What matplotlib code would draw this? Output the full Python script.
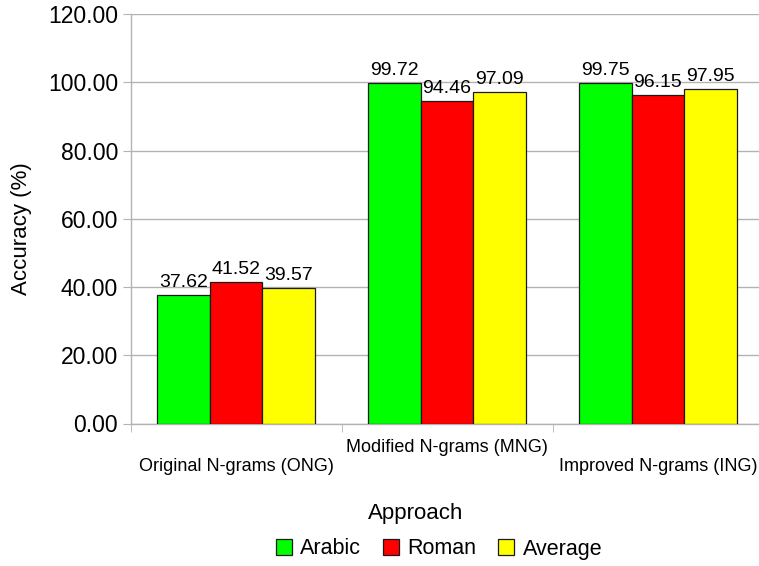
import numpy as np
import matplotlib.pyplot as plt

plt.rcParams['font.family'] = ['Liberation Sans', 'DejaVu Sans']

# accuracy per approach and script
approaches = ['Original N-grams (ONG)', 'Modified N-grams (MNG)', 'Improved N-grams (ING)']
series_names = ['Arabic', 'Roman', 'Average']
arabic = [37.62, 99.72, 99.75]
roman = [41.52, 94.46, 96.15]
average = [39.57, 97.09, 97.95]
colors = ['#00ff00', '#ff0000', '#ffff00']

fig = plt.figure(figsize=(7.59, 5.66), dpi=100)
ax = fig.add_axes([130.5 / 759, 1 - 423.5 / 566, 633 / 759, 409.5 / 566])

x = np.arange(len(approaches))
w = 0.25
grid_c = '#b3b3b3'

for i, (name, vals) in enumerate(zip(series_names, [arabic, roman, average])):
    bars = ax.bar(x + (i - 1) * w, vals, w, color=colors[i], edgecolor='#1a1a1a',
                  linewidth=0.9, label=name, zorder=3)
    ax.bar_label(bars, labels=['%.2f' % v for v in vals], padding=3, fontsize=14)

ax.set_xlim(-0.5, 2.5)
ax.set_ylim(0, 120)
ax.set_yticks(np.arange(0, 121, 20))
ax.set_yticklabels(['%.2f' % v for v in np.arange(0, 121, 20)], fontsize=16.5)
ax.yaxis.grid(True, color=grid_c, linewidth=1, zorder=0)
ax.tick_params(axis='y', length=6, color=grid_c, pad=3)

# staggered category labels
xlabels = ['\n' + approaches[0], approaches[1], '\n' + approaches[2]]
ax.set_xticks(x)
ax.set_xticklabels(xlabels, fontsize=13)
ax.tick_params(axis='x', which='major', length=0, pad=11)
ax.set_xticks([-0.5, 0.5, 1.5, 2.5], minor=True)
ax.tick_params(axis='x', which='minor', length=6, color=grid_c)

for side in ['top', 'right']:
    ax.spines[side].set_visible(False)
for side in ['left', 'bottom']:
    ax.spines[side].set_color(grid_c)
    ax.spines[side].set_linewidth(1)

fig.text(22 / 759, 1 - 229 / 566, 'Accuracy (%)', rotation=90, ha='center', va='center',
         fontsize=16)
fig.text(416 / 759, 1 - 514 / 566, 'Approach', ha='center', va='center', fontsize=16)

fig.legend(loc='center', bbox_to_anchor=(439 / 759, 1 - 549 / 566), ncol=3, frameon=False,
           fontsize=15.5, handlelength=0.75, handleheight=0.75, handletextpad=0.4,
           columnspacing=1.0, borderaxespad=0)

fig.savefig('out.png', dpi=100)
